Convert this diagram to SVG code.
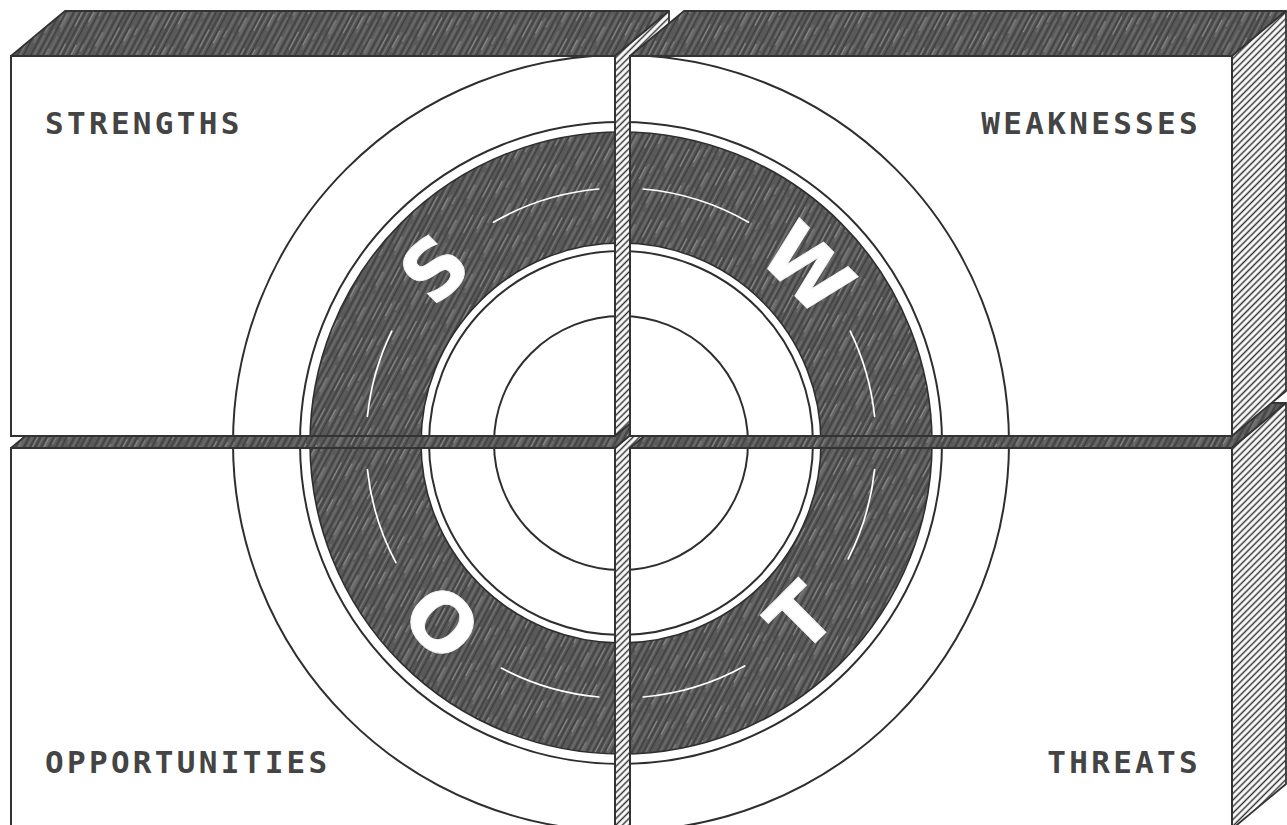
<svg xmlns="http://www.w3.org/2000/svg" width="1287" height="825" viewBox="0 0 1287 825">
<defs>
<pattern id="dk" width="40" height="40" patternUnits="userSpaceOnUse" patternTransform="rotate(28)">
<rect width="40" height="40" fill="#5a5a5a"/>
<path d="M1 0V40M6.5 0V40M13 0V40M19 0V40M24 0V40M31 0V40M36.5 0V40" stroke="#3c3c3c" stroke-width="1.4"/>
<path d="M3.5 0V40M10 0V22M16 10V40M22 0V30M28 5V40M34 0V40" stroke="#7a7a7a" stroke-width="0.9"/>
<path d="M8.5 4V18M26 20V36M38.5 8V28M15 0V8" stroke="#9a9a9a" stroke-width="0.8"/>
</pattern>
<pattern id="ht" width="4.6" height="4.6" patternUnits="userSpaceOnUse" patternTransform="rotate(45)">
<rect width="4.6" height="4.6" fill="#fff"/>
<line x1="2.3" y1="0" x2="2.3" y2="4.6" stroke="#333" stroke-width="1.5"/>
</pattern>
<clipPath id="fronts">
<rect x="12" y="57" width="602" height="378"/>
<rect x="631" y="57" width="600" height="378"/>
<rect x="12" y="449" width="602" height="390"/>
<rect x="631" y="449" width="600" height="390"/>
</clipPath>
<style>
.top{fill:url(#dk);stroke:#333;stroke-width:1.8;stroke-linejoin:round}
.side{fill:url(#ht);stroke:#333;stroke-width:1.8;stroke-linejoin:round}
.front{fill:#fff;stroke:#333;stroke-width:2}
.ring{fill:none;stroke:#2e2e2e;stroke-width:2}
.arc{fill:none;stroke:#fff;stroke-width:1.7;stroke-linecap:round}
.lbl{font-family:"DejaVu Sans Mono","Liberation Mono",monospace;font-weight:700;font-size:31px;letter-spacing:3.3px;fill:#444}
.big{font-family:"DejaVu Sans","Liberation Sans",sans-serif;font-weight:700;font-size:80px;fill:#fff;stroke:#f4f4f4;stroke-width:1;text-anchor:middle}
</style>
</defs>

<g id="block-opportunities">
<polygon class="top" points="11,448 65,403 669,403 615,448"/>
<polygon class="side" points="615,448 669,403 669,800 615,845"/>
<rect class="front" x="11" y="448" width="604" height="392"/>
</g>
<g id="block-threats">
<polygon class="top" points="630,448 684,403 1286,403 1232,448"/>
<polygon class="side" points="1232,448 1286,403 1286,784 1232,829"/>
<rect class="front" x="630" y="448" width="602" height="392"/>
</g>
<g id="block-strengths">
<polygon class="top" points="11,56 65,11 669,11 615,56"/>
<polygon class="side" points="615,56 669,11 669,391 615,436"/>
<rect class="front" x="11" y="56" width="604" height="380"/>
</g>
<g id="block-weaknesses">
<polygon class="top" points="630,56 684,11 1286,11 1232,56"/>
<polygon class="side" points="1232,56 1286,11 1286,391 1232,436"/>
<rect class="front" x="630" y="56" width="602" height="380"/>
</g>

<g id="target" clip-path="url(#fronts)">
<circle class="ring" cx="621" cy="443" r="388"/>
<circle class="ring" cx="621" cy="443" r="321"/>
<path d="M621 132a311 311 0 1 1 0 622a311 311 0 1 1 0-622zM621 243a200 200 0 1 0 0 400a200 200 0 1 0 0-400z" fill="url(#dk)" fill-rule="evenodd" stroke="#2e2e2e" stroke-width="1.6"/>
<circle class="ring" cx="621" cy="443" r="192"/>
<circle class="ring" cx="621" cy="443" r="127"/>
<g id="ring-arcs">
<path class="arc" d="M367.4 416.4A255 255 0 0 1 391.8 331.2"/>
<path class="arc" d="M493.5 222.2A255 255 0 0 1 598.8 189"/>
<path class="arc" d="M643.2 189A255 255 0 0 1 748.5 222.2"/>
<path class="arc" d="M850.2 331.2A255 255 0 0 1 874.6 416.4"/>
<path class="arc" d="M874.6 469.6A255 255 0 0 1 848.2 558.8"/>
<path class="arc" d="M744.6 666A255 255 0 0 1 643.2 697"/>
<path class="arc" d="M598.8 697A255 255 0 0 1 501.3 668.1"/>
<path class="arc" d="M395.9 562.7A255 255 0 0 1 367.4 469.6"/>
</g>
</g>

<g id="letter-s" transform="translate(434 268) rotate(-45)"><text class="big" x="0" y="29">S</text></g>
<g id="letter-w" transform="translate(808 268) rotate(45)"><text class="big" x="0" y="29">W</text></g>
<g id="letter-o" transform="translate(442 622) rotate(45)"><text class="big" x="0" y="29">O</text></g>
<g id="letter-t" transform="translate(800 617) rotate(-45)"><text class="big" x="0" y="29">T</text></g>

<g id="labels">
<text class="lbl" x="45" y="134">STRENGTHS</text>
<text class="lbl" x="1201" y="134" text-anchor="end">WEAKNESSES</text>
<text class="lbl" x="45" y="773">OPPORTUNITIES</text>
<text class="lbl" x="1201" y="773" text-anchor="end">THREATS</text>
</g>
</svg>
